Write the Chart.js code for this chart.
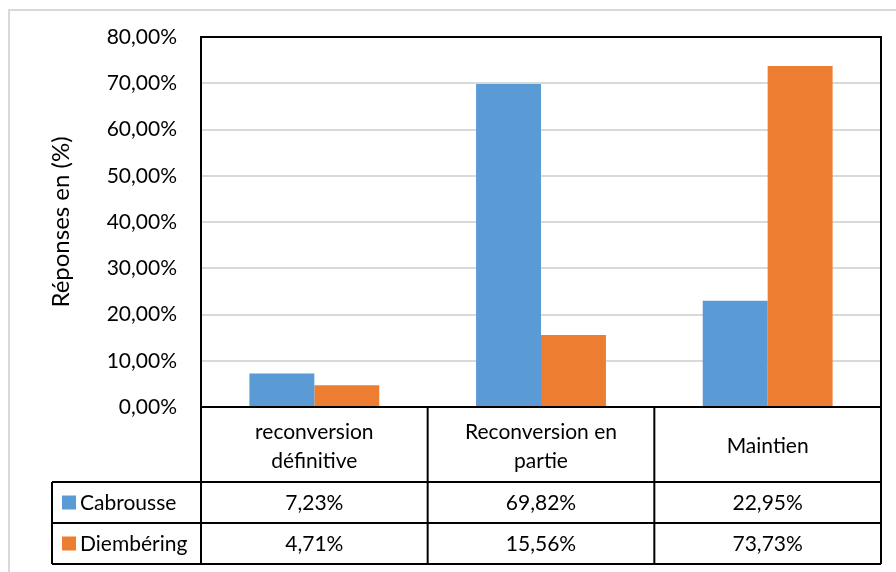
<!DOCTYPE html>
<html>
<head>
<meta charset="utf-8">
<script src="https://cdn.jsdelivr.net/npm/chart.js@4.4.0/dist/chart.umd.min.js"></script>
<style>
  html, body { margin: 0; padding: 0; background: #ffffff; }
  #wrap { position: relative; width: 896px; height: 572px; }
</style>
</head>
<body>
<div id="wrap"><canvas id="grafica" width="896" height="572"></canvas></div>
<script>
// Datos del gráfico
const categorias = [['reconversion', 'définitive'], ['Reconversion en', 'partie'], ['Maintien']];
const series = ['Cabrousse', 'Diembéring'];
const valoresCabrousse = [7.23, 69.82, 22.95];
const valoresDiembering = [4.71, 15.56, 73.73];
const colores = ['#5B9BD5', '#ED7D31'];
const tituloY = 'Réponses en (%)';

const FUENTE = 'Lato, "Open Sans", sans-serif';

function formatoPct(v) {
    return v.toFixed(2).replace('.', ',') + '%';
}

// Plugin para dibujar el marco, la tabla de datos y el borde exterior
const tablaDatos = {
    id: 'tablaDatos',
    afterDraw(chart) {
        const ctx = chart.ctx;
        const area = chart.chartArea;
        const x = chart.scales.x;
        const top = area.bottom;
        const filaCab = 482, filaDie = 523, fin = 564;
        const izq = 52;
        const n = categorias.length;
        const ancho = (area.right - area.left) / n;

        ctx.save();
        // borde exterior gris
        ctx.strokeStyle = '#d9d9d9';
        ctx.lineWidth = 2;
        ctx.strokeRect(9, 10, 900, 575);

        ctx.strokeStyle = '#000000';
        ctx.lineWidth = 2;
        // marco del área de trazado
        ctx.strokeRect(area.left, area.top, area.right - area.left, area.bottom - area.top);

        // líneas de la tabla
        ctx.beginPath();
        ctx.moveTo(area.left, top); ctx.lineTo(area.right, top);
        ctx.moveTo(izq, filaCab); ctx.lineTo(area.right, filaCab);
        ctx.moveTo(izq, filaDie); ctx.lineTo(area.right, filaDie);
        ctx.moveTo(izq, fin); ctx.lineTo(area.right, fin);
        ctx.moveTo(izq, filaCab); ctx.lineTo(izq, fin);
        for (let i = 0; i <= n; i++) {
            const xx = area.left + i * ancho;
            ctx.moveTo(xx, top); ctx.lineTo(xx, fin);
        }
        ctx.stroke();

        // textos de la tabla
        ctx.fillStyle = '#000000';
        ctx.font = '21px ' + FUENTE;
        ctx.textAlign = 'center';
        ctx.textBaseline = 'middle';
        categorias.forEach((cat, i) => {
            const cx = x.getPixelForValue(i);
            const cy = (top + filaCab) / 2 + 2;
            const alto = 29;
            cat.forEach((linea, j) => {
                ctx.fillText(linea, cx, cy + (j - (cat.length - 1) / 2) * alto);
            });
            ctx.fillText(formatoPct(valoresCabrousse[i]), cx, (filaCab + filaDie) / 2 + 1);
            ctx.fillText(formatoPct(valoresDiembering[i]), cx, (filaDie + fin) / 2 + 1);
        });

        // leyenda dentro de la tabla
        ctx.textAlign = 'left';
        [[filaCab, filaDie], [filaDie, fin]].forEach((f, k) => {
            const cy = (f[0] + f[1]) / 2;
            ctx.fillStyle = colores[k];
            ctx.fillRect(62, cy - 7, 14, 14);
            ctx.fillStyle = '#000000';
            ctx.fillText(series[k], 80, cy + 1);
        });
        ctx.restore();
    }
};

new Chart(document.getElementById('grafica').getContext('2d'), {
    type: 'bar',
    data: {
        labels: categorias,
        datasets: [
            { label: series[0], data: valoresCabrousse, backgroundColor: colores[0] },
            { label: series[1], data: valoresDiembering, backgroundColor: colores[1] }
        ]
    },
    options: {
        responsive: false,
        animation: false,
        devicePixelRatio: 1,
        categoryPercentage: 0.573,
        barPercentage: 1,
        layout: { padding: { left: 0, top: 37, right: 15, bottom: 165 } },
        plugins: {
            legend: { display: false },
            tooltip: { enabled: false }
        },
        scales: {
            x: {
                display: false
            },
            y: {
                min: 0,
                max: 80,
                afterFit: scale => { scale.width = 201; },
                border: { display: false },
                grid: { color: '#d9d9d9', lineWidth: 2, drawTicks: false },
                ticks: {
                    stepSize: 10,
                    padding: 24,
                    color: '#000000',
                    font: { family: FUENTE, size: 21 },
                    callback: v => formatoPct(v)
                },
                title: {
                    display: true,
                    text: tituloY,
                    color: '#000000',
                    font: { family: FUENTE, size: 24 },
                    padding: { top: 47, bottom: 0 }
                }
            }
        }
    },
    plugins: [tablaDatos]
});
</script>
</body>
</html>
